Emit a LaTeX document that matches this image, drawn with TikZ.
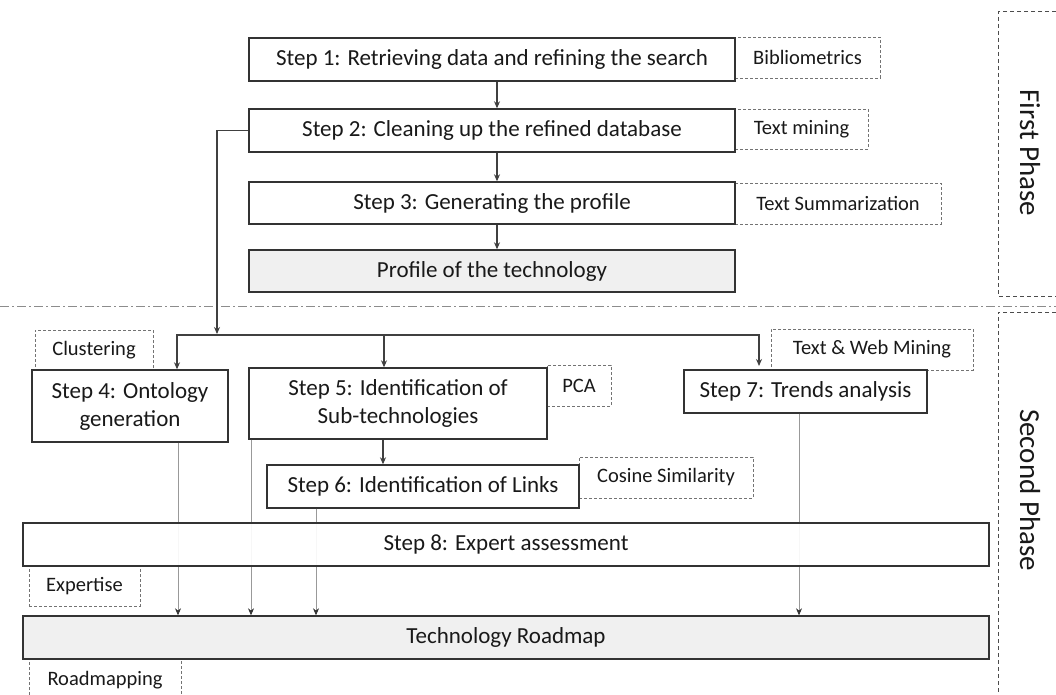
\documentclass[tikz,border=0pt]{standalone}
\usepackage{fontspec}
\setmainfont{Carlito}
\usetikzlibrary{arrows.meta}
\begin{document}
\begin{tikzpicture}[x=1pt,y=-1pt,
  box/.style={draw=black!80,line width=1.4pt,fill=white,inner sep=0pt,align=center,text=black!90,font=\fontsize{23}{28}\selectfont},
  graybox/.style={box,fill=black!6},
  note/.style={draw=black!55,dash pattern=on 3pt off 2pt,line width=0.9pt,inner sep=0pt,text=black!90,font=\fontsize{20.5}{24}\selectfont},
  plain/.style={inner sep=0pt,text=black!90,font=\fontsize{20.5}{24}\selectfont},
  flow/.style={draw=black!75,line width=1.1pt,-{Stealth[length=7pt,width=6pt]}},
  feed/.style={draw=black!40,line width=0.7pt,-{Stealth[length=7pt,width=6pt,black!80]}},
  phasebox/.style={draw=black!70,dash pattern=on 4pt off 3pt,line width=1pt},
  phase/.style={font=\fontsize{29}{32}\selectfont,rotate=-90,text=black!90,inner sep=0pt},
  sepline/.style={draw=black!45,line width=1pt,dash pattern=on 9pt off 3pt on 2pt off 3pt}]
\useasboundingbox (0,0) rectangle (1056,695);

% phase frames and separator
\draw[phasebox] (1056,12) -- (998,12) -- (998,296) -- (1056,296);
\draw[phasebox] (1056,312) -- (998,312) -- (998,695);
\node[phase] (p1) at (1030,153) {First Phase};
\node[phase] (p2) at (1030,490) {Second Phase};
\coordinate (sepL) at (0,306);
\coordinate (sepR) at (1056,306);
\draw[sepline] (sepL) -- (sepR);

% annotation boxes (behind steps)
\node[note,minimum width=145pt,minimum height=41pt] (bib) at (807.5,57.5) {Bibliometrics};
\node[note,minimum width=133pt,minimum height=40pt] (tm) at (801.5,129) {Text mining};
\node[note,minimum width=206pt,minimum height=41pt] (ts) at (838,203.5) {Text Summarization};
\node[note,minimum width=118pt,minimum height=40pt] (clu) at (94,350) {Clustering};
\node[note,minimum width=64pt,minimum height=41pt] (pca) at (579,385.5) {PCA};
\node[note,minimum width=202pt,minimum height=41pt] (twm) at (872,349.5) {Text \& Web Mining};
\node[note,minimum width=174pt,minimum height=41pt] (cos) at (666,477.5) {Cosine Similarity};
\node[note,minimum width=111pt,minimum height=40pt] (exp) at (84.5,586) {Expertise};
\draw[draw=black!55,dash pattern=on 3pt off 2pt,line width=0.9pt] (29,695) -- (29,659) -- (181,659) -- (181,695);
\node[plain] (rmp) at (105,680) {Roadmapping};

% first phase steps
\node[box,minimum width=486pt,minimum height=43pt] (s1) at (492,59.5) {Step 1: Retrieving data and refining the search};
\node[box,minimum width=486pt,minimum height=43pt] (s2) at (492,130.5) {Step 2: Cleaning up the refined database};
\node[box,minimum width=486pt,minimum height=42pt] (s3) at (492,203) {Step 3: Generating the profile};
\node[graybox,minimum width=486pt,minimum height=42pt] (pr) at (492,271) {Profile of the technology};

\coordinate (ax) at (497,0);
\draw[flow] (s1.south -| ax) -- (s2.north -| ax);
\draw[flow] (s2.south -| ax) -- (s3.north -| ax);
\draw[flow] (s3.south -| ax) -- (pr.north -| ax);

% second phase steps
\node[box,minimum width=196pt,minimum height=72pt] (s4) at (130,406) {Step 4: Ontology\\generation};
\node[box,minimum width=298pt,minimum height=71pt] (s5) at (398,403.5) {Step 5: Identification of\\Sub-technologies};
\node[box,minimum width=243pt,minimum height=43pt] (s7) at (805.5,391.5) {Step 7: Trends analysis};
\node[box,minimum width=312pt,minimum height=43pt] (s6) at (423,486.5) {Step 6: Identification of Links};

% branching from step 2
\coordinate (b2) at (217,334);
\coordinate (b4) at (177,335);
\coordinate (b5) at (384,335);
\coordinate (b7) at (759,335);
\coordinate (e7) at (759,366);
\draw[flow] (s2.west) -| (b2);
\draw[draw=black!75,line width=1.1pt,{Stealth[length=7pt,width=6pt]}-{Stealth[length=7pt,width=6pt]}] (s4.north -| b4) -- (b4) -- (b7) -- (e7);
\draw[flow] (b5) -- (s5.north -| b5);
\coordinate (a56) at (383,0);
\draw[flow] (s5.south -| a56) -- (s6.north -| a56);

% bottom boxes and feeding lines
\node[graybox,minimum width=966pt,minimum height=43pt] (rm) at (506,637.5) {Technology Roadmap};
\coordinate (c4) at (178,0);
\coordinate (c5) at (251,0);
\coordinate (c6) at (316,0);
\coordinate (c7) at (799,0);
\draw[feed] (s4.south -| c4) -- (rm.north -| c4);
\draw[feed] (s5.south -| c5) -- (rm.north -| c5);
\draw[feed] (s6.south -| c6) -- (rm.north -| c6);
\draw[feed] (s7.south -| c7) -- (rm.north -| c7);
\node[box,minimum width=966pt,minimum height=43pt,fill opacity=0.92,text opacity=1] (s8) at (506,544.5) {Step 8: Expert assessment};
\end{tikzpicture}
\end{document}
